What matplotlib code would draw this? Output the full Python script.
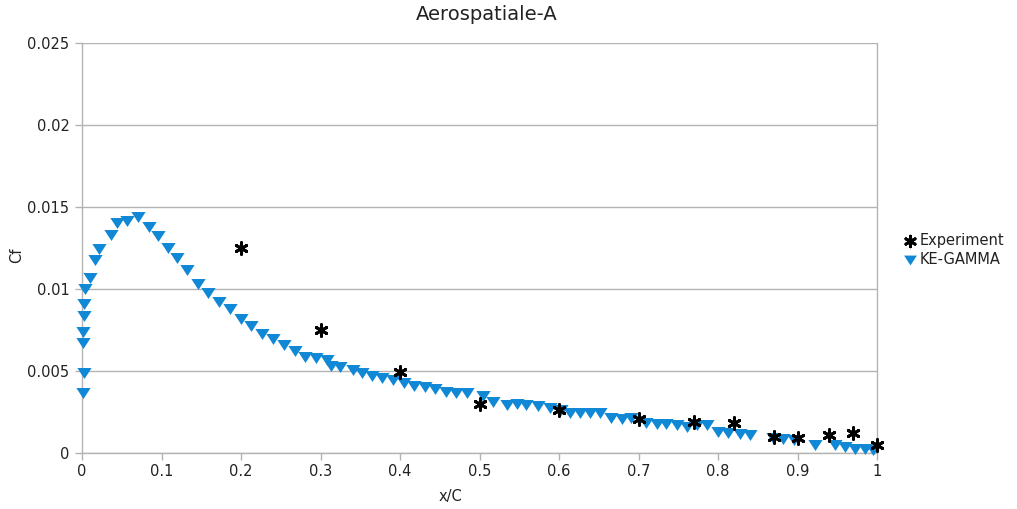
import matplotlib
matplotlib.use("Agg")
import matplotlib.pyplot as plt
import numpy as np

plt.rcParams["font.family"] = ["DejaVu Sans"]

# Experimental skin friction
exp_x = [0.2, 0.3, 0.4, 0.5, 0.6, 0.7, 0.77, 0.82, 0.87, 0.9, 0.94, 0.97, 1.0]
exp_cf = [0.0125, 0.0075, 0.00494, 0.0030, 0.0026, 0.0021, 0.0019, 0.0018,
          0.0010, 0.0009, 0.0011, 0.0012, 0.0005]

# KE-GAMMA model result
sim_x = [0.0016, 0.0025, 0.0016, 0.0009, 0.0025, 0.0025, 0.0042, 0.010, 0.0164,
         0.0218, 0.036, 0.0436, 0.056, 0.070, 0.084, 0.096, 0.108, 0.120,
         0.1325, 0.146, 0.159, 0.172, 0.186, 0.200, 0.213, 0.227, 0.2406,
         0.254, 0.268, 0.2805, 0.294, 0.3078, 0.313, 0.3245, 0.341, 0.352,
         0.3645, 0.377, 0.3916, 0.405, 0.4176, 0.4314, 0.444, 0.458, 0.471,
         0.484, 0.504, 0.517, 0.534, 0.5468, 0.559, 0.574, 0.589, 0.602,
         0.614, 0.626, 0.639, 0.6516, 0.666, 0.679, 0.691, 0.710, 0.723,
         0.735, 0.748, 0.7606, 0.773, 0.786, 0.800, 0.813, 0.828, 0.840,
         0.8696, 0.882, 0.895, 0.922, 0.947, 0.960, 0.972, 0.985, 0.995]
sim_cf = [0.00366, 0.00486, 0.00669, 0.0074, 0.00835, 0.00909, 0.00998, 0.0107,
          0.01177, 0.01242, 0.0133, 0.01404, 0.01417, 0.01437, 0.0138, 0.01323,
          0.01248, 0.01187, 0.01116, 0.0103, 0.00974, 0.00923, 0.00876, 0.0082,
          0.00774, 0.00724, 0.00693, 0.00659, 0.00624, 0.00587, 0.00577,
          0.00567, 0.0053, 0.00526, 0.00506, 0.0049, 0.0047, 0.00455, 0.00445,
          0.00425, 0.00409, 0.0040, 0.00388, 0.00374, 0.00364, 0.00364,
          0.00348, 0.00313, 0.00293, 0.0030, 0.00293, 0.00287, 0.00272,
          0.00262, 0.00242, 0.00242, 0.00242, 0.00242, 0.00212, 0.00206,
          0.00212, 0.0018, 0.00177, 0.00177, 0.0017, 0.0016, 0.0017, 0.0017,
          0.0013, 0.00124, 0.00116, 0.0011, 0.0009, 0.00084, 0.0008, 0.00049,
          0.00049, 0.00035, 0.00023, 0.00023, 0.00018]

x_ticks = np.arange(0, 1.01, 0.1)
y_ticks = np.arange(0, 0.0251, 0.005)

blue = "#1088d6"
grid_col = "#b3b3b3"
text_col = "#222222"

# down-pointing triangle, a little wider than tall
tri = [(-1, 0.77), (1, 0.77), (0, -0.77), (-1, 0.77)]

fig = plt.figure(figsize=(10.17, 5.09), dpi=100)
ax = fig.add_axes([82 / 1017, 56 / 509, 795 / 1017, 410 / 509])

ax.scatter(sim_x, sim_cf, marker=tri, s=105, color=blue, linewidths=0,
           zorder=3, clip_on=False, label="KE-GAMMA")
ax.scatter(exp_x, exp_cf, marker=(6, 2, 0), s=72, color="black",
           linewidths=2.1, zorder=4, clip_on=False, label="Experiment")

ax.set_xlim(0, 1)
ax.set_ylim(0, 0.025)
ax.set_xticks(x_ticks)
ax.set_xticklabels([f"{v:g}" for v in np.round(x_ticks, 1)])
ax.set_yticks(y_ticks)
ax.set_yticklabels([f"{v:g}" for v in np.round(y_ticks, 3)])
ax.yaxis.grid(True, color=grid_col, linewidth=1)
ax.set_axisbelow(True)
for side in ["left", "bottom", "right"]:
    ax.spines[side].set_color(grid_col)
    ax.spines[side].set_linewidth(1)
ax.spines["top"].set_visible(False)
ax.tick_params(axis="both", direction="out", length=5, width=1,
               color=grid_col, labelsize=10.5, labelcolor=text_col)
ax.tick_params(axis="x", pad=3)
ax.tick_params(axis="y", pad=4)

fig.text(487 / 1017, 1 - 14 / 509, "Aerospatiale-A", ha="center",
         va="center", fontsize=14, color=text_col)
fig.text(450 / 1017, 1 - 497 / 509, "x/C", ha="center", va="center",
         fontsize=10.5, color=text_col)
fig.text(17 / 1017, 1 - 255 / 509, "Cf", ha="center", va="center",
         rotation=90, fontsize=10.5, color=text_col)

handles, labels = ax.get_legend_handles_labels()
fig.legend(handles[::-1], labels[::-1], loc="center left",
           bbox_to_anchor=(898 / 1017, 1 - 250 / 509), frameon=False,
           fontsize=10.5, handlelength=0.8, handletextpad=0.25,
           labelspacing=0.25, borderaxespad=0, markerscale=0.9,
           labelcolor=text_col)

fig.savefig("out.png", dpi=100)
